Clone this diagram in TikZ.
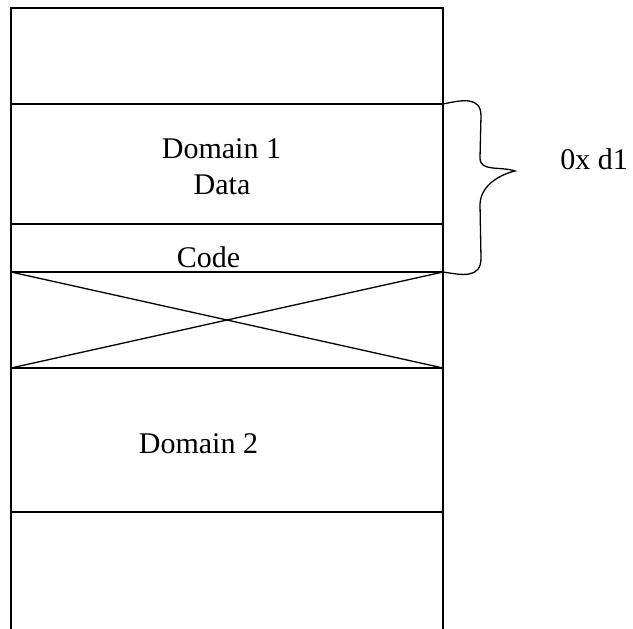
\documentclass[tikz,border=0pt]{standalone}
\usepackage{fontspec}
\setmainfont{Liberation Serif}
\usepackage{tikz}
\usetikzlibrary{calc}
\tikzset{>=latex}
\tikzset{memline/.style = {line width = 1.5pt}}
\tikzset{memtext/.style = {font = \fontsize{30}{34}\selectfont, inner sep = 0pt, anchor = base}}

\begin{document}
\begin{tikzpicture}[x = 1pt, y = -1pt]
\useasboundingbox (0, 0) rectangle (633, 629);

% Draw memory column (open at the bottom)
\draw[memline] (11, 629) -- (11, 8) -- (443, 8) -- (443, 629);
\foreach \y/\n in {104/a, 224/b, 272/c, 368/d, 512/e} {
  \coordinate (l\n) at (11, \y);
  \coordinate (r\n) at (443, \y);
  \draw[memline] (l\n) -- (r\n);
}

% Draw the crossed out region
\draw[line width = 1.3pt] (lc) -- (rd);
\draw[line width = 1.3pt] (ld) -- (rc);




% Draw brace
\draw[line width = 1.3pt]
(ra) .. controls (462, 100) and (481, 96) .. (481, 116)
-- (480, 158)
.. controls (480, 172) and (500, 166) .. (515, 171)
.. controls (502, 174) and (481, 184) .. (480, 204)
-- (481, 258)
.. controls (481, 279) and (462, 275) .. (rc);

\node[memtext] (dom1) at (221.5, 158.5) {Domain 1};
\node[memtext] (data) at (222, 194) {Data};
\node[memtext] (code) at (208.5, 267) {Code};
\node[memtext] (dom2) at (198.5, 453) {Domain 2};
\node[memtext] (addr) at (594, 169) {0x d1};
\end{tikzpicture}
\end{document}
